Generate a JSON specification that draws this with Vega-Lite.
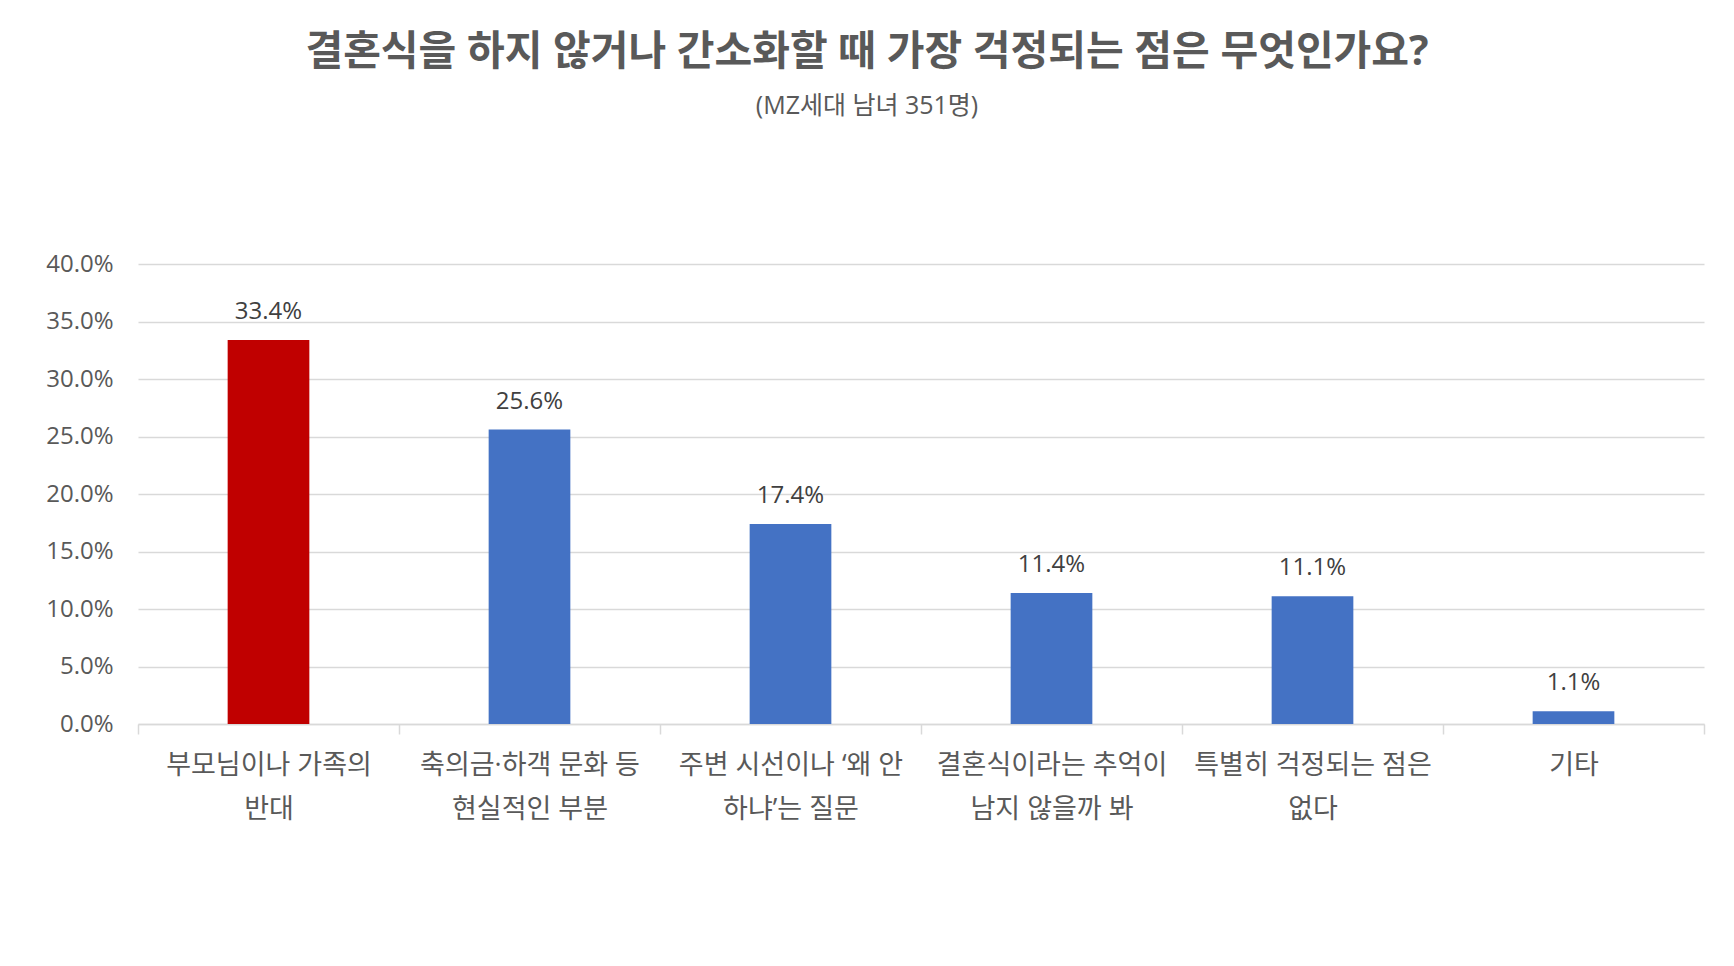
{
  "$schema": "https://vega.github.io/schema/vega-lite/v6.json",
  "autosize": "none",
  "width": 1566,
  "height": 460,
  "padding": {"left": 138, "top": 264, "right": 30, "bottom": 242},
  "background": "#ffffff",
  "view": {"stroke": null},
  "title": {
    "text": "결혼식을 하지 않거나 간소화할 때 가장 걱정되는 점은 무엇인가요?",
    "subtitle": "(MZ세대 남녀 351명)",
    "anchor": "middle",
    "frame": "group",
    "dx": -54,
    "offset": 132,
    "font": "Open Sans, Noto Sans CJK KR",
    "fontSize": 41,
    "fontWeight": "bold",
    "color": "#595959",
    "subtitleFont": "Open Sans, Noto Sans CJK KR",
    "subtitleFontSize": 25,
    "subtitleColor": "#595959",
    "subtitlePadding": 20
  },
  "data": {
    "values": [
      {"item": "부모님이나 가족의|반대", "share": 0.334},
      {"item": "축의금·하객 문화 등|현실적인 부분", "share": 0.256},
      {"item": "주변 시선이나 ‘왜 안|하냐’는 질문", "share": 0.174},
      {"item": "결혼식이라는 추억이|남지 않을까 봐", "share": 0.114},
      {"item": "특별히 걱정되는 점은|없다", "share": 0.111},
      {"item": "기타", "share": 0.011}
    ]
  },
  "encoding": {
    "x": {
      "field": "item",
      "type": "nominal",
      "sort": null,
      "scale": {"paddingInner": 0, "paddingOuter": 0},
      "axis": {
        "title": null,
        "labelAngle": 0,
        "labelExpr": "split(datum.label, '|')",
        "labelFont": "Open Sans, Noto Sans CJK KR",
        "labelFontSize": 27,
        "labelLineHeight": 44,
        "labelColor": "#595959",
        "labelLimit": 400,
        "labelPadding": 18,
        "labelBaseline": "top",
        "labelOverlap": false,
        "domainColor": "#D9D9D9",
        "domainWidth": 1.5,
        "tickColor": "#D9D9D9",
        "tickWidth": 1.5,
        "tickSize": 10,
        "tickBand": "extent",
        "grid": false
      }
    },
    "y": {
      "field": "share",
      "type": "quantitative",
      "scale": {"domain": [0, 0.4], "nice": false},
      "axis": {
        "title": null,
        "values": [0, 0.05, 0.1, 0.15, 0.2, 0.25, 0.3, 0.35, 0.4],
        "format": ".1%",
        "labelFont": "Open Sans, Noto Sans CJK KR",
        "labelFontSize": 24,
        "labelColor": "#595959",
        "labelPadding": 25,
        "ticks": false,
        "tickSize": 0,
        "domain": false,
        "grid": true,
        "gridColor": "#D9D9D9",
        "gridWidth": 1.5
      }
    }
  },
  "layer": [
    {
      "mark": {"type": "bar", "width": {"band": 0.313}},
      "encoding": {
        "color": {
          "field": "item",
          "type": "nominal",
          "scale": {
            "domain": ["부모님이나 가족의|반대", "축의금·하객 문화 등|현실적인 부분", "주변 시선이나 ‘왜 안|하냐’는 질문", "결혼식이라는 추억이|남지 않을까 봐", "특별히 걱정되는 점은|없다", "기타"],
            "range": ["#C00000", "#4472C4", "#4472C4", "#4472C4", "#4472C4", "#4472C4"]
          },
          "legend": null
        }
      }
    },
    {
      "mark": {
        "type": "text",
        "baseline": "alphabetic",
        "dy": -21,
        "font": "Open Sans, Noto Sans CJK KR",
        "fontSize": 24,
        "color": "#404040"
      },
      "encoding": {
        "text": {"field": "share", "type": "quantitative", "format": ".1%"}
      }
    }
  ]
}
